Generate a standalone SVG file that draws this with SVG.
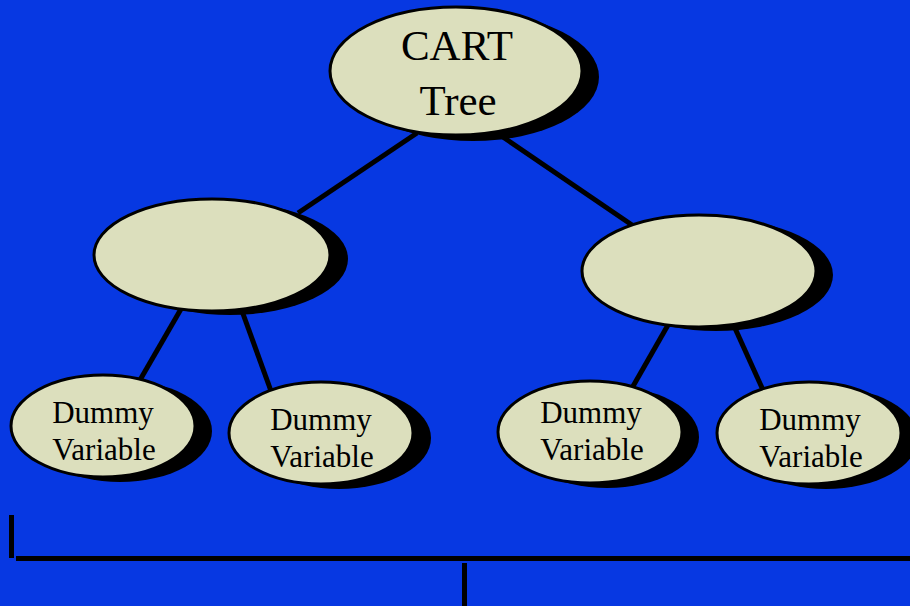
<svg xmlns="http://www.w3.org/2000/svg" width="910" height="606" viewBox="0 0 910 606">
<style>
.bg{fill:#0738E2}
.sh{fill:#000}
.nd{fill:#DCDFBD;stroke:#000;stroke-width:3}
.cn{stroke:#000;stroke-width:5;fill:none}
.t{font-family:"Liberation Serif","Times New Roman",serif;fill:#000;text-anchor:middle}
.big{font-size:43px}
.sm{font-size:31px}
</style>
<rect class="bg" x="0" y="0" width="910" height="606"/>
<g id="connectors">
<line class="cn" x1="417" y1="133" x2="298" y2="213"/>
<line class="cn" x1="500" y1="135" x2="632" y2="225"/>
<line class="cn" x1="181" y1="309" x2="140" y2="380"/>
<line class="cn" x1="242" y1="311" x2="271" y2="391"/>
<line class="cn" x1="668" y1="325" x2="632" y2="388"/>
<line class="cn" x1="734" y1="326" x2="763" y2="390"/>
<line class="cn" x1="11.5" y1="515" x2="11.5" y2="558"/>
<line class="cn" x1="16" y1="558.5" x2="910" y2="558.5"/>
<line class="cn" x1="464.5" y1="563" x2="464.5" y2="606"/>
</g>
<g id="root">
<ellipse class="sh" cx="473" cy="77" rx="126" ry="64"/>
<ellipse class="nd" cx="456" cy="71" rx="126" ry="64"/>
<text class="t big" x="457" y="60">CART</text>
<text class="t big" x="458" y="115">Tree</text>
</g>
<g id="mid-left">
<ellipse class="sh" cx="230" cy="259" rx="118" ry="56"/>
<ellipse class="nd" cx="212" cy="255" rx="118" ry="56"/>
</g>
<g id="mid-right">
<ellipse class="sh" cx="716" cy="275" rx="117" ry="56"/>
<ellipse class="nd" cx="699" cy="271" rx="117" ry="56"/>
</g>
<g id="leaf1">
<ellipse class="sh" cx="120" cy="431" rx="92" ry="51"/>
<ellipse class="nd" cx="103" cy="426" rx="92" ry="51"/>
<text class="t sm" x="103" y="423">Dummy</text>
<text class="t sm" x="104" y="460">Variable</text>
</g>
<g id="leaf2">
<ellipse class="sh" cx="339" cy="438" rx="92" ry="51"/>
<ellipse class="nd" cx="321" cy="433" rx="92" ry="51"/>
<text class="t sm" x="321" y="430">Dummy</text>
<text class="t sm" x="322" y="467">Variable</text>
</g>
<g id="leaf3">
<ellipse class="sh" cx="607" cy="437" rx="92" ry="51"/>
<ellipse class="nd" cx="590" cy="432" rx="92" ry="51"/>
<text class="t sm" x="591" y="423">Dummy</text>
<text class="t sm" x="592" y="460">Variable</text>
</g>
<g id="leaf4">
<ellipse class="sh" cx="826" cy="438" rx="92" ry="51"/>
<ellipse class="nd" cx="809" cy="433" rx="92" ry="51"/>
<text class="t sm" x="810" y="430">Dummy</text>
<text class="t sm" x="811" y="467">Variable</text>
</g>
</svg>
